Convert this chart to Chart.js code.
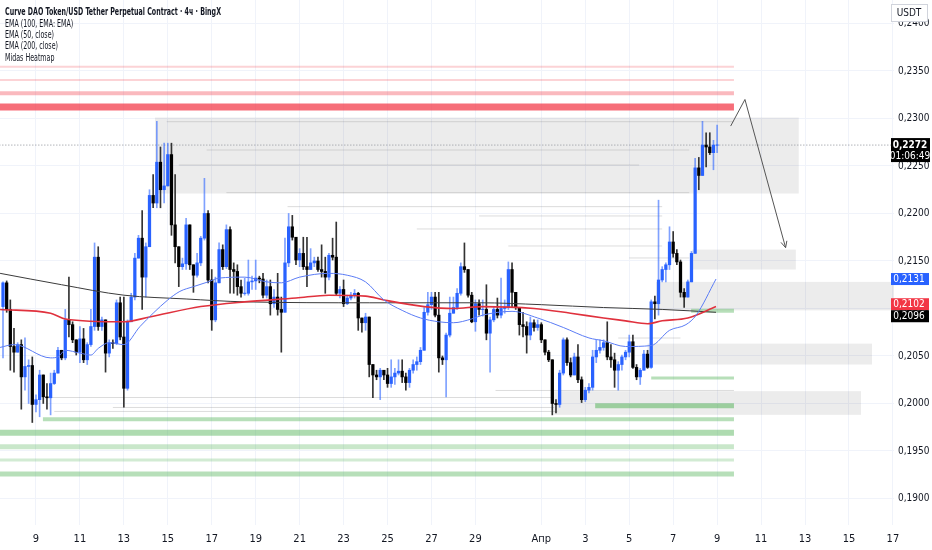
<!DOCTYPE html>
<html>
<head>
<meta charset="utf-8">
<script src="https://cdn.jsdelivr.net/npm/chart.js@4.4.1/dist/chart.umd.min.js"></script>
<style>
  html, body { margin: 0; padding: 0; background: #fff; }
  canvas { display: block; }
</style>
</head>
<body>
<canvas id="chart" width="932" height="550"></canvas>
<script>
// ---- data (4h candles, index 0 = 7 Mar 12:00) ----
const firstOpen = 0.2102;
const closes = [
  0.2127,0.2099,0.2060,0.2054,0.2062,0.2028,0.2039,0.2040,0.1999,0.2004,
  0.2030,0.2007,0.2006,0.2021,0.2032,0.2056,0.2048,0.2088,0.2083,0.2067,
  0.2054,0.2068,0.2046,0.2062,0.2081,0.2154,0.2081,0.2088,0.2053,0.2064,
  0.2063,0.2106,0.2070,0.2016,0.2086,0.2112,0.2153,0.2174,0.2133,0.2165,
  0.2219,0.2211,0.2254,0.2225,0.2229,0.2262,0.2188,0.2165,0.2144,0.2147,
  0.2188,0.2146,0.2135,0.2148,0.2174,0.2200,0.2130,0.2088,0.2127,0.2162,
  0.2144,0.2183,0.2141,0.2139,0.2123,0.2116,0.2116,0.2128,0.2129,0.2132,
  0.2131,0.2114,0.2123,0.2105,0.2112,0.2099,0.2096,0.2148,0.2186,0.2175,
  0.2151,0.2158,0.2144,0.2141,0.2148,0.2150,0.2141,0.2139,0.2133,0.2156,
  0.2154,0.2116,0.2120,0.2105,0.2111,0.2114,0.2116,0.2090,0.2085,0.2091,
  0.2041,0.2030,0.2028,0.2035,0.2030,0.2021,0.2028,0.2032,0.2034,0.2028,
  0.2022,0.2035,0.2041,0.2044,0.2056,0.2096,0.2104,0.2112,0.2093,0.2048,
  0.2046,0.2072,0.2095,0.2101,0.2116,0.2144,0.2141,0.2114,0.2086,0.2105,
  0.2099,0.2099,0.2074,0.2088,0.2099,0.2093,0.2100,0.2101,0.2141,0.2117,
  0.2101,0.2083,0.2081,0.2072,0.2085,0.2080,0.2083,0.2067,0.2054,0.2046,
  0.2000,0.1999,0.2032,0.2067,0.2043,0.2030,0.2049,0.2025,0.2004,0.2014,
  0.2017,0.2049,0.2056,0.2059,0.2064,0.2049,0.2046,0.2035,0.2041,0.2049,
  0.2054,0.2065,0.2038,0.2028,0.2035,0.2052,0.2038,0.2107,0.2105,0.2130,
  0.2141,0.2146,0.2170,0.2158,0.2149,0.2117,0.2112,0.2128,0.2158,0.2248,
  0.2240,0.2272,0.2270,0.2264,0.2272,0.2272
];
const highs = [
  0.2128,0.2129,0.2109,0.2079,0.2064,0.2067,0.2069,0.2046,0.2049,0.2009,
  0.2035,0.2020,0.2021,0.2032,0.2035,0.2059,0.2056,0.2099,0.2133,0.2086,
  0.2067,0.2081,0.2079,0.2064,0.2099,0.2169,0.2165,0.2091,0.2088,0.2067,
  0.2067,0.2109,0.2112,0.2112,0.2088,0.2116,0.2158,0.2177,0.2203,0.2169,
  0.2225,0.2241,0.2297,0.2270,0.2274,0.2274,0.2274,0.2241,0.2165,0.2153,
  0.2195,0.2188,0.2146,0.2158,0.2176,0.2237,0.2203,0.2141,0.2133,0.2169,
  0.2167,0.2188,0.2186,0.2148,0.2146,0.2130,0.2132,0.2151,0.2134,0.2151,
  0.2134,0.2137,0.2130,0.2130,0.2120,0.2137,0.2112,0.2174,0.2200,0.2198,
  0.2175,0.2163,0.2175,0.2175,0.2163,0.2154,0.2154,0.2167,0.2154,0.2158,
  0.2174,0.2191,0.2123,0.2130,0.2114,0.2117,0.2120,0.2117,0.2090,0.2095,
  0.2091,0.2041,0.2035,0.2037,0.2035,0.2037,0.2046,0.2037,0.2046,0.2046,
  0.2032,0.2037,0.2046,0.2049,0.2059,0.2101,0.2117,0.2117,0.2117,0.2117,
  0.2050,0.2074,0.2112,0.2112,0.2121,0.2148,0.2169,0.2141,0.2117,0.2109,
  0.2109,0.2109,0.2125,0.2091,0.2101,0.2111,0.2132,0.2109,0.2149,0.2148,
  0.2117,0.2101,0.2096,0.2086,0.2091,0.2088,0.2088,0.2085,0.2067,0.2056,
  0.2046,0.2004,0.2035,0.2069,0.2069,0.2048,0.2053,0.2062,0.2028,0.2017,
  0.2021,0.2056,0.2067,0.2067,0.2067,0.2086,0.2062,0.2053,0.2044,0.2051,
  0.2056,0.2072,0.2072,0.2041,0.2037,0.2056,0.2056,0.2109,0.2113,0.2214,
  0.2144,0.2148,0.2186,0.2181,0.2162,0.2151,0.2121,0.2130,0.2160,0.2258,
  0.2259,0.2297,0.2285,0.2285,0.2277,0.2293
];
const lows = [
  0.2048,0.2096,0.2035,0.2033,0.2054,0.1994,0.2014,0.2000,0.1980,0.1991,
  0.1986,0.2000,0.1994,0.1988,0.2020,0.2033,0.2046,0.2046,0.2070,0.2064,
  0.2051,0.2043,0.2043,0.2041,0.2060,0.2077,0.2077,0.2077,0.2033,0.2049,
  0.2058,0.2062,0.2067,0.1996,0.2014,0.2086,0.2109,0.2153,0.2099,0.2112,
  0.2165,0.2206,0.2206,0.2206,0.2211,0.2230,0.2177,0.2148,0.2123,0.2141,
  0.2141,0.2141,0.2117,0.2133,0.2145,0.2172,0.2127,0.2077,0.2086,0.2127,
  0.2141,0.2142,0.2116,0.2116,0.2114,0.2112,0.2114,0.2114,0.2120,0.2120,
  0.2127,0.2111,0.2111,0.2093,0.2101,0.2093,0.2054,0.2096,0.2144,0.2172,
  0.2146,0.2144,0.2141,0.2123,0.2141,0.2144,0.2139,0.2133,0.2116,0.2130,
  0.2151,0.2114,0.2111,0.2102,0.2104,0.2109,0.2111,0.2077,0.2075,0.2077,
  0.2028,0.2006,0.2025,0.2004,0.2025,0.2017,0.2017,0.2020,0.2030,0.2022,
  0.2014,0.2017,0.2032,0.2035,0.2041,0.2056,0.2093,0.2099,0.2091,0.2033,
  0.2041,0.2007,0.2070,0.2095,0.2099,0.2114,0.2138,0.2112,0.2085,0.2076,
  0.2093,0.2092,0.2067,0.2033,0.2086,0.2090,0.2090,0.2095,0.2099,0.2101,
  0.2099,0.2072,0.2070,0.2053,0.2067,0.2076,0.2077,0.2064,0.2051,0.2044,
  0.1988,0.1990,0.1996,0.2030,0.2040,0.2028,0.2030,0.2022,0.2001,0.2002,
  0.2011,0.2014,0.2043,0.2053,0.2056,0.2046,0.2038,0.2017,0.2014,0.2035,
  0.2046,0.2049,0.2037,0.2025,0.2020,0.2035,0.2037,0.2037,0.2089,0.2093,
  0.2128,0.2128,0.2141,0.2154,0.2146,0.2112,0.2101,0.2117,0.2128,0.2158,
  0.2225,0.2240,0.2249,0.2262,0.2246,0.2264
];

// moving averages, read at points along each line: [candle index, price]
const ema50 = [[-0.8,0.2059],[3,0.2062],[13,0.2048],[15,0.2049],[17,0.2056],[21,0.2053],[24,0.2051],[26,0.2058],[29,0.2064],[33,0.2062],
  [37.4,0.2081],[41,0.2095],[45,0.2109],[48.3,0.2118],[52,0.2123],[56,0.2128],[59,0.2132],[66,0.2133],[72,0.2128],[76,0.2127],
  [81,0.2133],[89,0.2137],[94,0.2135],[99,0.2128],[104,0.2109],[109,0.2098],[114,0.2090],[119,0.2086],[123,0.2085],[128,0.2089],
  [131,0.2093],[139,0.2097],[146,0.2090],[153,0.2080],[160,0.2069],[164,0.2066],[170,0.2060],[177,0.2061],[182,0.2077],[186.5,0.2083],
  [189.3,0.2093],[194.7,0.2131]];
const ema100 = [[-0.8,0.2099],[13,0.2095],[17,0.2089],[33,0.2086],[40,0.2091],[54,0.2102],[66,0.2107],[80,0.2111],[89,0.2114],[99,0.2113],
  [104,0.2109],[115,0.2102],[123,0.2100],[131,0.2102],[145,0.2100],[155,0.2095],[164,0.2090],[170,0.2087],[176,0.2084],[180,0.2087],
  [187,0.2090],[194.7,0.2102]];
const ema200 = [[-0.8,0.2137],[16,0.2125],[33,0.2114],[50,0.2110],[66,0.2107],[100,0.2106],[130,0.2106],[147,0.2104],[164,0.2101],
  [180,0.2099],[194.7,0.2096]];

// time axis
const dayTicks = [9,21,33,45,57,69,81,93,105,117,129,147,159,171,183,195,207,219,231,243];
const dayLabels = ["9","11","13","15","17","19","21","23","25","27","29","Апр","3","5","7","9","11","13","15","17"];
const priceTicks = [0.19,0.195,0.2,0.205,0.21,0.215,0.22,0.225,0.23,0.235,0.24];

// drawn levels (prices) and their time span
const levelsEnd = 199.6;
const redLevels = [0.23545, 0.23405, 0.23265, 0.23121];
const greenLevels = [0.20977, 0.20268, 0.19977, 0.19834, 0.19693, 0.19545, 0.19405, 0.19258];
const greenStarts = [187.9, 177, 161.7, 10.9, -1, -1, -1, -1];
const heatLevels = [0.22966, 0.22668, 0.2251, 0.22219, 0.22072, 0.21974, 0.21837, 0.21658, 0.21532, 0.20689, 0.20137, 0.20063, 0.19958, 0.19916];
const heatStarts = [44.7, 55.6, 48, 61, 77.7, 130, 113, 138, 171, 168, 134.5, 11.5, 30, 14];
const heatEnds = [199.6, 187.4, 173.7, 187.4, 180, 180, 180, 180, 187.4, 185, 199.6, 150.5, 150.5, 151.4];

// gray zones
const zoneStart = [41.5, 188.2, 178.3, 176, 150.5];
const zoneEnd = [217.3, 216.5, 243.3, 237.3, 234.3];
const zoneTop = [0.2301, 0.2162, 0.2128, 0.2063, 0.2013];
const zoneBottom = [0.2221, 0.2141, 0.2098, 0.2041, 0.1988];

// drawn arrow
const arrowX = [198.7, 202.6, 213.7];
const arrowY = [0.2292, 0.2320, 0.2164];

const title = "Curve DAO Token/USD Tether Perpetual Contract · 4ч · BingX";
const legendLines = ["EMA (100, EMA: EMA)", "EMA (50, close)", "EMA (200, close)", "Midas Heatmap"];
const countdown = "01:06:49";

// ---- styles ----
const FONT = '"Liberation Sans Narrow", "DejaVu Sans Condensed", Roboto, sans-serif';
const BLUE = "#2962ff";
const redColors = ["rgba(242,54,69,0.22)", "rgba(242,54,69,0.22)", "rgba(242,54,69,0.35)", "rgba(242,54,69,0.72)"];
const redWidths = [2, 2, 4, 7];
const greenColors = ["rgba(76,175,80,0.4)","rgba(76,175,80,0.4)","rgba(76,175,80,0.5)","rgba(76,175,80,0.4)","rgba(76,175,80,0.45)","rgba(76,175,80,0.3)","rgba(76,175,80,0.25)","rgba(76,175,80,0.4)"];
const greenWidths = [4, 3, 5, 4, 6, 5, 3, 5];

function fmt(v){ return v.toFixed(4).replace(".", ","); }

const idx = closes.map(function(_, i){ return i; });
const opens = closes.map(function(c, i){ return i === 0 ? firstOpen : closes[i-1]; });
const up = idx.map(function(i){ return closes[i] >= opens[i]; });

const wickData = idx.map(function(i){
  return { x: i, y: [Math.min(lows[i], opens[i], closes[i]), Math.max(highs[i], opens[i], closes[i])] };
});
const bodyData = idx.map(function(i){
  let lo = Math.min(opens[i], closes[i]), hi = Math.max(opens[i], closes[i]);
  if (hi - lo < 0.00004) { const m = (hi + lo) / 2; lo = m - 0.00002; hi = m + 0.00002; }
  return { x: i, y: [lo, hi] };
});

function level(price, from, to, color, width, order, dash){
  return {
    type: "line", data: [{x: from, y: price}, {x: to, y: price}],
    borderColor: color, borderWidth: width, borderCapStyle: "butt",
    pointRadius: 0, borderDash: dash || [], order: order
  };
}
function pairs(arr){ return arr.map(function(p){ return {x: p[0], y: p[1]}; }); }

const datasets = [];
heatLevels.forEach(function(p, k){ datasets.push(level(p, heatStarts[k], heatEnds[k], "rgba(130,130,130,0.28)", 1, 22)); });
redLevels.forEach(function(p, k){ datasets.push(level(p, -1, levelsEnd, redColors[k], redWidths[k], 20)); });
greenLevels.forEach(function(p, k){ datasets.push(level(p, greenStarts[k], levelsEnd, greenColors[k], greenWidths[k], 20)); });
datasets.push(level(closes[closes.length-1], -1, 244, "#8a8d96", 1, 15, [1, 2]));

datasets.push({
  type: "bar", data: wickData, grouped: false, barThickness: 1, order: 6,
  backgroundColor: idx.map(function(i){ return up[i] ? "rgba(41,98,255,0.6)" : "#333"; })
});
datasets.push({
  type: "bar", data: bodyData, grouped: false, barThickness: 2.6, order: 5,
  backgroundColor: idx.map(function(i){ return up[i] ? BLUE : "#000"; })
});

function emaLine(arr, color, width, order){
  return { type: "line", data: pairs(arr), borderColor: color, borderWidth: width, pointRadius: 0,
           cubicInterpolationMode: "monotone", order: order };
}
datasets.push(emaLine(ema200, "#3b3b3b", 1, 3));
datasets.push(emaLine(ema100, "#e0313d", 1.6, 2));
datasets.push(emaLine(ema50, "#5b7cf5", 1, 1));

const arrowDs = datasets.length;
datasets.push({ type: "line", data: arrowX.map(function(x, k){ return {x: x, y: arrowY[k]}; }),
  borderColor: "#555", borderWidth: 1, pointRadius: 0, tension: 0, order: 0 });

// zones under everything
const zonesPlugin = {
  id: "zones",
  beforeDatasetsDraw(chart){
    const {ctx, chartArea: a, scales: {x, y}} = chart;
    ctx.save();
    ctx.beginPath(); ctx.rect(a.left, a.top, a.right - a.left, a.bottom - a.top); ctx.clip();
    ctx.fillStyle = "rgba(0,0,0,0.075)";
    zoneStart.forEach(function(s, k){
      const x1 = x.getPixelForValue(s), x2 = x.getPixelForValue(zoneEnd[k]);
      const y1 = y.getPixelForValue(zoneTop[k]), y2 = y.getPixelForValue(zoneBottom[k]);
      ctx.fillRect(x1, y1, x2 - x1, y2 - y1);
    });
    ctx.restore();
  }
};

// texts, price tags, arrow head
const overlayPlugin = {
  id: "overlay",
  afterDraw(chart){
    const {ctx, scales: {y}} = chart;
    ctx.save();
    // header
    ctx.fillStyle = "#131722";
    ctx.textBaseline = "middle";
    ctx.textAlign = "left";
    ctx.font = "600 11px " + FONT;
    const sx = Math.min(1, 216 / ctx.measureText(title).width);
    ctx.save(); ctx.scale(sx, 1);
    ctx.fillText(title, 5 / sx, 12);
    ctx.font = "11px " + FONT;
    legendLines.forEach(function(t, k){ ctx.fillText(t, 5 / sx, 24 + k * 11.3); });
    ctx.restore();

    // arrow head
    const pts = chart.getDatasetMeta(arrowDs).data;
    const p1 = pts[pts.length-2], p2 = pts[pts.length-1];
    const ang = Math.atan2(p2.y - p1.y, p2.x - p1.x);
    ctx.strokeStyle = "#555"; ctx.lineWidth = 1;
    ctx.beginPath();
    [0.45, -0.45].forEach(function(d){
      ctx.moveTo(p2.x, p2.y);
      ctx.lineTo(p2.x - 7 * Math.cos(ang + d), p2.y - 7 * Math.sin(ang + d));
    });
    ctx.stroke();

    // USDT box
    ctx.fillStyle = "#fff"; ctx.fillRect(891, 4, 36, 17);
    ctx.strokeStyle = "#d1d4dc"; ctx.strokeRect(891.5, 4.5, 36, 17);
    ctx.fillStyle = "#131722"; ctx.font = "10px " + FONT; ctx.textAlign = "center";
    ctx.fillText("USDT", 909, 13);

    // tags
    function tag(val, cy, bg){
      ctx.fillStyle = bg;
      ctx.fillRect(891, cy - 6, 38, 12);
      ctx.fillStyle = "#fff"; ctx.font = "10px " + FONT; ctx.textAlign = "center";
      ctx.fillText(fmt(val), 909, cy + 0.5);
    }
    const v50 = ema50[ema50.length-1][1], v100 = ema100[ema100.length-1][1], v200 = ema200[ema200.length-1][1];
    tag(v50, y.getPixelForValue(v50), BLUE);
    let a = y.getPixelForValue(v100), b = y.getPixelForValue(v200);
    if (Math.abs(a - b) < 12) { const m = (a + b) / 2 + 0.8; a = m - 6; b = m + 6; }
    tag(v100, a, "#f23645");
    tag(v200, b, "#000");

    const last = closes[closes.length-1];
    const cy = y.getPixelForValue(last);
    ctx.fillStyle = "#000";
    ctx.fillRect(891, cy - 7, 39, 24);
    ctx.fillStyle = "#fff"; ctx.textAlign = "center";
    ctx.font = "bold 10px " + FONT;
    ctx.fillText(fmt(last), 910, cy);
    ctx.font = "10px " + FONT;
    ctx.fillText(countdown, 910, cy + 11);
    ctx.restore();
  }
};

function noPad(s){ s.paddingTop = 0; s.paddingBottom = 0; s.paddingLeft = 0; s.paddingRight = 0; }

new Chart(document.getElementById("chart"), {
  type: "bar",
  data: { datasets: datasets },
  options: {
    responsive: false,
    animation: false,
    devicePixelRatio: 1,
    layout: { padding: 0 },
    plugins: { legend: { display: false }, tooltip: { enabled: false } },
    scales: {
      x: {
        type: "linear", min: -0.82, max: 243.3, offset: false,
        afterBuildTicks: function(s){ s.ticks = dayTicks.map(function(v){ return {value: v}; }); },
        afterFit: function(s){ s.height = 25; noPad(s); },
        ticks: { autoSkip: false, maxRotation: 0, padding: 8, color: "#131722",
                 font: { family: FONT, size: 11 },
                 callback: function(v, i){ return dayLabels[i]; } },
        grid: { color: "#f0f3fa", drawTicks: false, offset: false },
        border: { display: false }
      },
      y: {
        position: "right", min: 0.18721, max: 0.24247,
        afterBuildTicks: function(s){ s.ticks = priceTicks.map(function(v){ return {value: v}; }); },
        afterFit: function(s){ s.width = 38; noPad(s); },
        ticks: { padding: 4, color: "#131722", font: { family: FONT, size: 10 },
                 callback: function(v){ return fmt(v); } },
        grid: { color: "#f0f3fa", drawTicks: false },
        border: { display: false }
      }
    }
  },
  plugins: [zonesPlugin, overlayPlugin]
});
</script>
</body>
</html>
